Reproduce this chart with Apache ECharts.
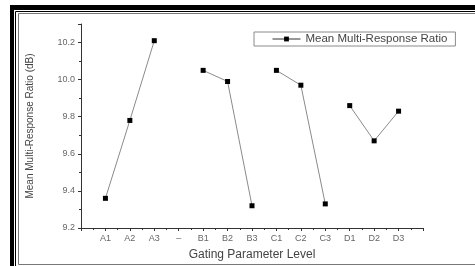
<!DOCTYPE html>
<html>
<head>
<meta charset="utf-8">
<title>Mean Multi-Response Ratio</title>
<script src="https://cdn.jsdelivr.net/npm/echarts@6/dist/echarts.min.js"></script>
<style>
  html, body { margin: 0; padding: 0; background: #fff; }
  #chart { width: 475px; height: 266px; }
</style>
</head>
<body>
<div id="chart"></div>
<script>
// tick labels along the x axis (position 0 and 14 are blank ends)
var categories = ['', 'A1', 'A2', 'A3', '\u2013', 'B1', 'B2', 'B3', 'C1', 'C2', 'C3', 'D1', 'D2', 'D3', ''];

// factor levels and their mean multi-response ratio (dB)
var groupA = ['A1', 'A2', 'A3'];
var valuesA = [9.36, 9.78, 10.21];
var groupB = ['B1', 'B2', 'B3'];
var valuesB = [10.05, 9.99, 9.32];
var groupC = ['C1', 'C2', 'C3'];
var valuesC = [10.05, 9.97, 9.33];
var groupD = ['D1', 'D2', 'D3'];
var valuesD = [9.86, 9.67, 9.83];

var seriesName = 'Mean Multi-Response Ratio';

function makeSeries(levels, values) {
  var pts = [];
  for (var i = 0; i < levels.length; i++) {
    pts.push([categories.indexOf(levels[i]), values[i]]);
  }
  return {
    name: seriesName,
    type: 'line',
    data: pts,
    symbol: 'rect',
    symbolSize: 5,
    itemStyle: { color: '#000' },
    lineStyle: { color: '#8a8a8a', width: 1 },
    emphasis: { disabled: true }
  };
}

var chart = echarts.init(document.getElementById('chart'));
chart.setOption({
  animation: false,
  textStyle: { fontFamily: 'Liberation Sans, Arial, sans-serif' },
  grid: { left: 81, right: 52, top: 24, bottom: 36 },
  legend: {
    data: [seriesName],
    left: 254,
    top: 32,
    padding: [1, 8, 1, 18],
    itemWidth: 28,
    itemHeight: 6,
    itemGap: 5,
    borderColor: '#8a8a8a',
    borderWidth: 1,
    lineStyle: { color: '#333', width: 1 },
    textStyle: { color: '#444', fontSize: 11.5 }
  },
  xAxis: {
    type: 'value',
    min: 0,
    max: 14,
    interval: 1,
    name: 'Gating Parameter Level',
    nameLocation: 'middle',
    nameGap: 21,
    nameTextStyle: { color: '#444', fontSize: 12 },
    axisLine: { lineStyle: { color: '#333', width: 1 } },
    axisTick: { show: true, length: 3, lineStyle: { color: '#333' } },
    minorTick: { show: true, splitNumber: 2, length: 2, lineStyle: { color: '#333' } },
    splitLine: { show: false },
    axisLabel: {
      color: '#666',
      fontSize: 9,
      margin: 6,
      formatter: function (v) { return categories[Math.round(v)] || ''; }
    }
  },
  yAxis: {
    type: 'value',
    min: 9.2,
    max: 10.3,
    interval: 0.2,
    name: 'Mean Multi-Response Ratio (dB)',
    nameLocation: 'middle',
    nameGap: 46,
    nameTextStyle: { color: '#444', fontSize: 10 },
    axisLine: { show: true, lineStyle: { color: '#333', width: 1 } },
    axisTick: { show: true, length: 3, lineStyle: { color: '#333' } },
    minorTick: { show: true, splitNumber: 2, length: 2, lineStyle: { color: '#333' } },
    splitLine: { show: false },
    axisLabel: {
      color: '#666',
      fontSize: 9,
      margin: 6,
      showMaxLabel: false,
      formatter: function (v) { return v.toFixed(1); }
    }
  },
  graphic: [
    { type: 'rect', shape: { x: 10, y: 5, width: 465, height: 5 }, style: { fill: '#000' } },
    { type: 'rect', shape: { x: 10, y: 5, width: 4, height: 261 }, style: { fill: '#000' } },
    { type: 'line', shape: { x1: 15.5, y1: 11.5, x2: 475, y2: 11.5 }, style: { stroke: '#000', lineWidth: 1 } },
    { type: 'line', shape: { x1: 15.5, y1: 11.5, x2: 15.5, y2: 266 }, style: { stroke: '#000', lineWidth: 1 } },
    { type: 'rect', shape: { x: 18.5, y: 13.5, width: 460, height: 251 }, style: { fill: 'none', stroke: '#777', lineWidth: 1 } }
  ],
  series: [
    makeSeries(groupA, valuesA),
    makeSeries(groupB, valuesB),
    makeSeries(groupC, valuesC),
    makeSeries(groupD, valuesD)
  ]
});
</script>
</body>
</html>
